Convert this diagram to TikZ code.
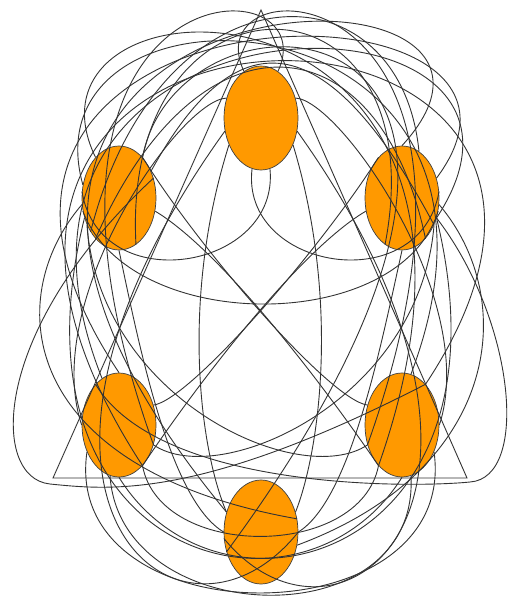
\documentclass[tikz,border=0pt]{standalone}
\usetikzlibrary{shapes.geometric}
\definecolor{blobfill}{RGB}{255,153,0}
\begin{document}
\begin{tikzpicture}[x=1pt,y=-1pt,
  blob/.style={ellipse, draw=black!75, fill=blobfill, minimum width=74pt, minimum height=104pt, inner sep=0pt, line width=0.7pt},
  wire/.style={draw=black!80, line width=0.9pt}]
\useasboundingbox (0,0) rectangle (508,600);
\node[blob] (T)  at (261,118) {};
\node[blob] (UL) at (119,198) {};
\node[blob] (UR) at (402,198) {};
\node[blob] (LL) at (119,425) {};
\node[blob] (LR) at (402,425) {};
\node[blob] (B)  at (261,532) {};
\coordinate (apex) at (261,10);
\coordinate (bl) at (53,478);
\coordinate (br) at (467,478);
\coordinate (lp) at (50,484);
\coordinate (rp) at (470,482);
\draw[wire] (apex) -- (bl) -- (br) -- cycle;
% highest arcs
\draw[wire] (UL.290) .. controls (120,-45) and (440,-40) .. (UR.250);
\draw[wire] (UL.230) .. controls (160,-40) and (400,-40) .. (UR.70);
% globe band
\draw[wire] (LL.300) .. controls (-200,-60) and (720,-60) .. (LR.60);
\draw[wire] (LL.90) .. controls (-150,-30) and (600,-40) .. (UR.30);
\draw[wire] (B.150) .. controls (-230,-40) and (600,-70) .. (UR.90);
\draw[wire] (UL.160) .. controls (20,-40) and (560,-20) .. (LR.80);
\draw[wire] (LL.110) .. controls (-60,-30) and (600,-30) .. (UR.330);
\draw[wire] (LR.240) .. controls (560,-50) and (0,-40) .. (UL.120);
\draw[wire] (B.210) .. controls (640,-10) and (180,-40) .. (UL.60);
\draw[wire] (LL.330) .. controls (-20,-40) and (330,-40) .. (T.70);
\draw[wire] (LR.210) .. controls (540,-40) and (190,-40) .. (T.110);
\draw[wire] (UL.240) .. controls (200,0) and (380,20) .. (UR.300);
\draw[wire] (UL.40) .. controls (240,10) and (330,30) .. (UR.320);
% side loops
\draw[wire] (LR.60) .. controls (200,500) and (110,490) .. (lp) .. controls (-10,478) and (-10,330) .. (UL.30);
\draw[wire] (LL.120) .. controls (160,490) and (410,488) .. (rp) .. controls (530,478) and (515,320) .. (UR.330);
\draw[wire] (UL.190) .. controls (0,300) and (20,470) .. (B.20);
\draw[wire] (UR.350) .. controls (520,300) and (500,470) .. (B.340);
% bottom arcs
\draw[wire] (LL.220) .. controls (60,640) and (460,640) .. (LR.320);
\draw[wire] (LL.260) .. controls (120,630) and (420,640) .. (LR.280);
\draw[wire] (UL.210) .. controls (0,560) and (300,640) .. (LR.270);
\draw[wire] (UR.330) .. controls (520,560) and (220,640) .. (LL.270);
\draw[wire] (T.200) .. controls (-40,500) and (180,680) .. (B.0);
\draw[wire] (T.340) .. controls (560,500) and (340,680) .. (B.190);
\draw[wire] (LL.300) .. controls (160,560) and (360,560) .. (LR.240);
% U-curves under T
\draw[wire] (UL.170) .. controls (100,300) and (280,270) .. (T.280);
\draw[wire] (UR.10) .. controls (420,300) and (240,270) .. (T.260);
% arc at 305
\draw[wire] (UL.200) .. controls (130,335) and (400,335) .. (UR.340);
% X diagonals
\draw[wire] (LL.300) .. controls (200,380) and (300,250) .. (UR.200);
\draw[wire] (LR.240) .. controls (320,380) and (220,250) .. (UL.340);
\draw[wire] (UL.60) .. controls (200,250) and (330,400) .. (LR.150);
\draw[wire] (UR.120) .. controls (320,250) and (190,400) .. (LL.30);
% verticals
\draw[wire] (T.220) .. controls (180,300) and (200,450) .. (B.150);
\draw[wire] (T.320) .. controls (340,300) and (320,450) .. (B.30);
\draw[wire] (UL.270) .. controls (140,350) and (170,500) .. (B.180);
\draw[wire] (UR.270) .. controls (380,350) and (350,500) .. (B.0);
% diagonals toward T
\draw[wire] (LL.180) .. controls (40,300) and (180,100) .. (T.150);
\draw[wire] (LR.0) .. controls (480,300) and (340,100) .. (T.30);
% lower band
\draw[wire] (UL.220) .. controls (100,400) and (300,490) .. (LR.210);
\draw[wire] (UR.320) .. controls (420,400) and (220,490) .. (LL.330);
\end{tikzpicture}
\end{document}
